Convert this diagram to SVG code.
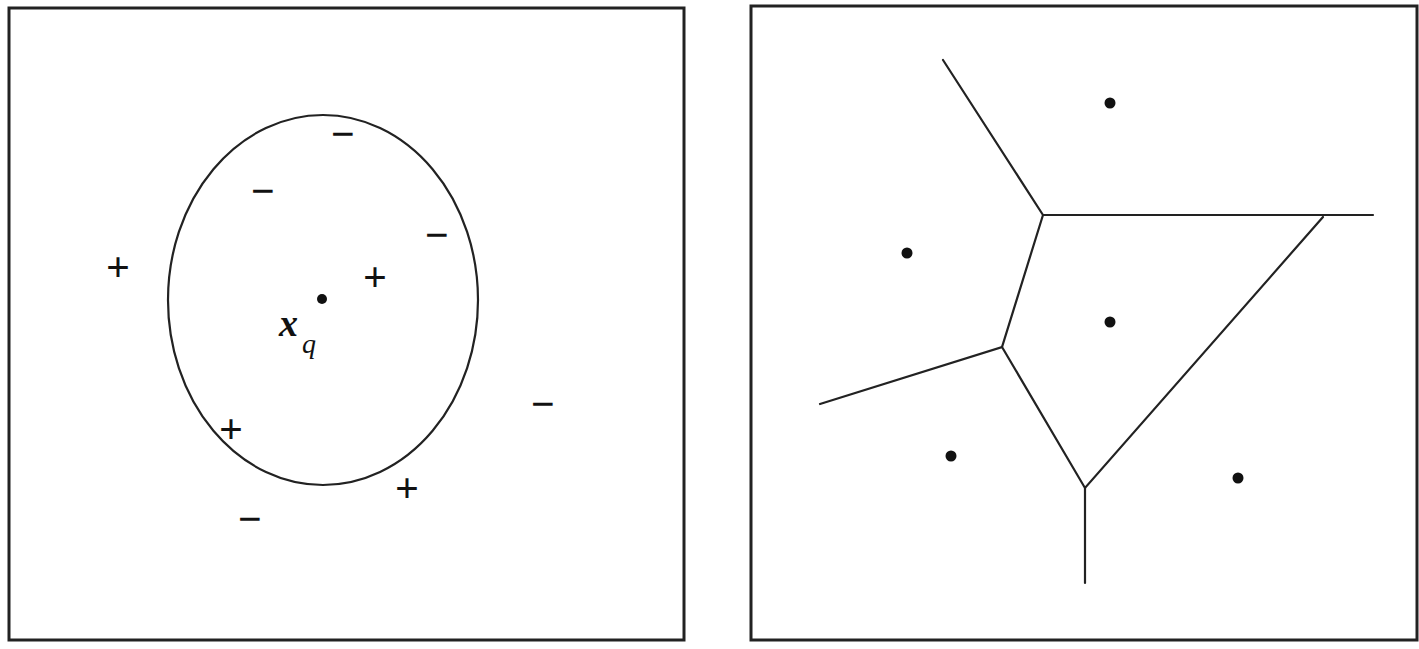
<svg xmlns="http://www.w3.org/2000/svg" width="1419" height="649" viewBox="0 0 1419 649">
<style>
.box{fill:none;stroke:#222;stroke-width:3}
.ln{fill:none;stroke:#222;stroke-width:2.2;stroke-linecap:round}
.sym{font-family:"Liberation Serif",serif;font-size:42px;font-weight:bold;fill:#111;text-anchor:middle}
.dot{fill:#111}
.lbl{font-family:"Liberation Serif",serif;font-style:italic;fill:#111}
</style>
<rect width="1419" height="649" fill="#fff"/>
<g id="left-panel">
<rect class="box" x="9" y="8" width="675" height="632"/>
<ellipse id="neighborhood" class="ln" cx="323" cy="300" rx="155" ry="185"/>
<g id="xq">
<circle class="dot" cx="322" cy="299" r="5"/>
<text class="lbl" x="279" y="336" font-size="38" font-weight="bold">x</text>
<text class="lbl" x="302" y="353" font-size="28">q</text>
</g>
<g id="samples">
<text class="sym" x="343" y="148">−</text>
<text class="sym" x="263" y="205">−</text>
<text class="sym" x="437" y="249">−</text>
<text class="sym" x="118" y="281">+</text>
<text class="sym" x="375" y="291">+</text>
<text class="sym" x="543" y="418">−</text>
<text class="sym" x="231" y="443">+</text>
<text class="sym" x="407" y="502">+</text>
<text class="sym" x="250" y="533">−</text>
</g>
</g>
<g id="right-panel">
<rect class="box" x="751" y="6" width="666" height="634"/>
<g id="connectors">
<polyline class="ln" points="943,60 1043,215 1373,215"/>
<polyline class="ln" points="1043,215 1002,347 820,404"/>
<polyline class="ln" points="1002,347 1085,488 1323,217"/>
<polyline class="ln" points="1085,488 1085,583"/>
</g>
<g id="points">
<circle class="dot" cx="1110" cy="103" r="5.5"/>
<circle class="dot" cx="907" cy="253" r="5.5"/>
<circle class="dot" cx="1110" cy="322" r="5.5"/>
<circle class="dot" cx="951" cy="456" r="5.5"/>
<circle class="dot" cx="1238" cy="478" r="5.5"/>
</g>
</g>
</svg>
